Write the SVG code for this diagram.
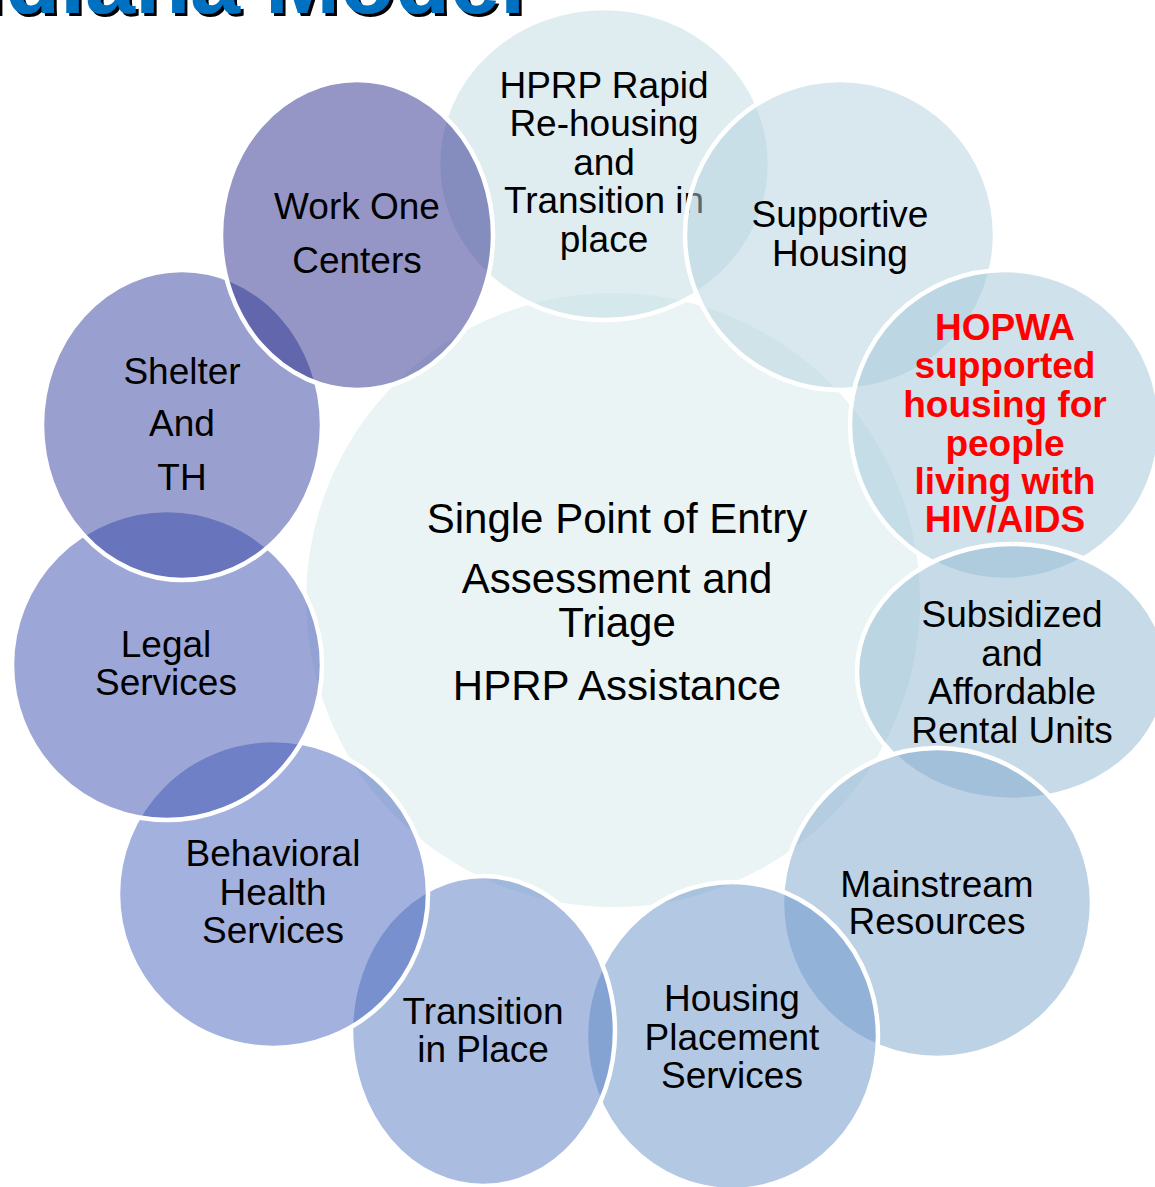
<svg xmlns="http://www.w3.org/2000/svg" width="1155" height="1187" viewBox="0 0 1155 1187">
<defs>
<filter id="shadow" x="-5%" y="-20%" width="110%" height="140%">
<feOffset in="SourceAlpha" dx="3" dy="3" result="off"/>
<feFlood flood-color="#000000"/>
<feComposite in2="off" operator="in" result="sh"/>
<feMerge><feMergeNode in="sh"/><feMergeNode in="SourceGraphic"/></feMerge>
</filter>
</defs>
<style>
.bg{fill:#ffffff}
.n{stroke:#ffffff;stroke-width:4.5;fill-opacity:0.5}
.t{font-family:"Liberation Sans",Arial,sans-serif;font-size:37px;fill:#000000;text-anchor:middle}
.r{font-weight:bold;fill:#ff0000}
.c{font-size:42px}
.title{font-family:"Liberation Sans",Arial,sans-serif;font-size:90px;font-weight:bold;text-anchor:end;fill:#0070c0}
</style>
<rect class="bg" x="0" y="0" width="1155" height="1187"/>
<g id="title">
<text class="title" x="525" y="13" filter="url(#shadow)">Indiana Model</text>
</g>
<g id="center">
<circle cx="613" cy="600" r="309" fill="#eaf4f5" stroke="#ffffff" stroke-width="4"/>
<text class="t c" x="617" y="533">Single Point of Entry</text>
<text class="t c" x="617" y="593">Assessment and</text>
<text class="t c" x="617" y="637">Triage</text>
<text class="t c" x="617" y="700">HPRP Assistance</text>
</g>
<g id="connectors"></g>
<g id="hprp">
<ellipse class="n" cx="604" cy="164" rx="166" ry="156" fill="#bfdbe3"/>
<text class="t" x="604" y="98">HPRP Rapid</text>
<text class="t" x="604" y="136">Re-housing</text>
<text class="t" x="604" y="175">and</text>
<text class="t" x="604" y="213">Transition in</text>
<text class="t" x="604" y="252">place</text>
</g>
<g id="supportive">
<ellipse class="n" cx="840" cy="235" rx="155" ry="155" fill="#b3d1dd"/>
<text class="t" x="840" y="227">Supportive</text>
<text class="t" x="840" y="266">Housing</text>
</g>
<g id="hopwa">
<ellipse class="n" cx="1005" cy="425" rx="155" ry="155" fill="#9fc5d7"/>
<text class="t r" x="1005" y="340">HOPWA</text>
<text class="t r" x="1005" y="378">supported</text>
<text class="t r" x="1005" y="417">housing for</text>
<text class="t r" x="1005" y="456">people</text>
<text class="t r" x="1005" y="494">living with</text>
<text class="t r" x="1005" y="532">HIV/AIDS</text>
</g>
<g id="subsidized">
<ellipse class="n" cx="1012" cy="672" rx="155" ry="128" fill="#8db5cf"/>
<text class="t" x="1012" y="627">Subsidized</text>
<text class="t" x="1012" y="666">and</text>
<text class="t" x="1012" y="704">Affordable</text>
<text class="t" x="1012" y="743">Rental Units</text>
</g>
<g id="mainstream">
<ellipse class="n" cx="937" cy="903" rx="155" ry="155" fill="#7da5cd"/>
<text class="t" x="937" y="897">Mainstream</text>
<text class="t" x="937" y="934">Resources</text>
</g>
<g id="housing-placement">
<ellipse class="n" cx="732" cy="1036" rx="146" ry="154" fill="#6591c7"/>
<text class="t" x="732" y="1011">Housing</text>
<text class="t" x="732" y="1050">Placement</text>
<text class="t" x="732" y="1088">Services</text>
</g>
<g id="transition">
<ellipse class="n" cx="483" cy="1031" rx="132" ry="155" fill="#557bc1"/>
<text class="t" x="483" y="1024">Transition</text>
<text class="t" x="483" y="1062">in Place</text>
</g>
<g id="behavioral">
<ellipse class="n" cx="273" cy="894" rx="155" ry="154" fill="#4563bb"/>
<text class="t" x="273" y="866">Behavioral</text>
<text class="t" x="273" y="905">Health</text>
<text class="t" x="273" y="943">Services</text>
</g>
<g id="legal">
<ellipse class="n" cx="167" cy="665" rx="155" ry="155" fill="#3b4faf"/>
<text class="t" x="166" y="657">Legal</text>
<text class="t" x="166" y="695">Services</text>
</g>
<g id="shelter">
<ellipse class="n" cx="182" cy="425" rx="140" ry="155" fill="#33419f"/>
<text class="t" x="182" y="384">Shelter</text>
<text class="t" x="182" y="436">And</text>
<text class="t" x="182" y="490">TH</text>
</g>
<g id="workone">
<ellipse class="n" cx="357" cy="235" rx="136" ry="155" fill="#2b2d8b"/>
<text class="t" x="357" y="219">Work One</text>
<text class="t" x="357" y="273">Centers</text>
</g>
</svg>
